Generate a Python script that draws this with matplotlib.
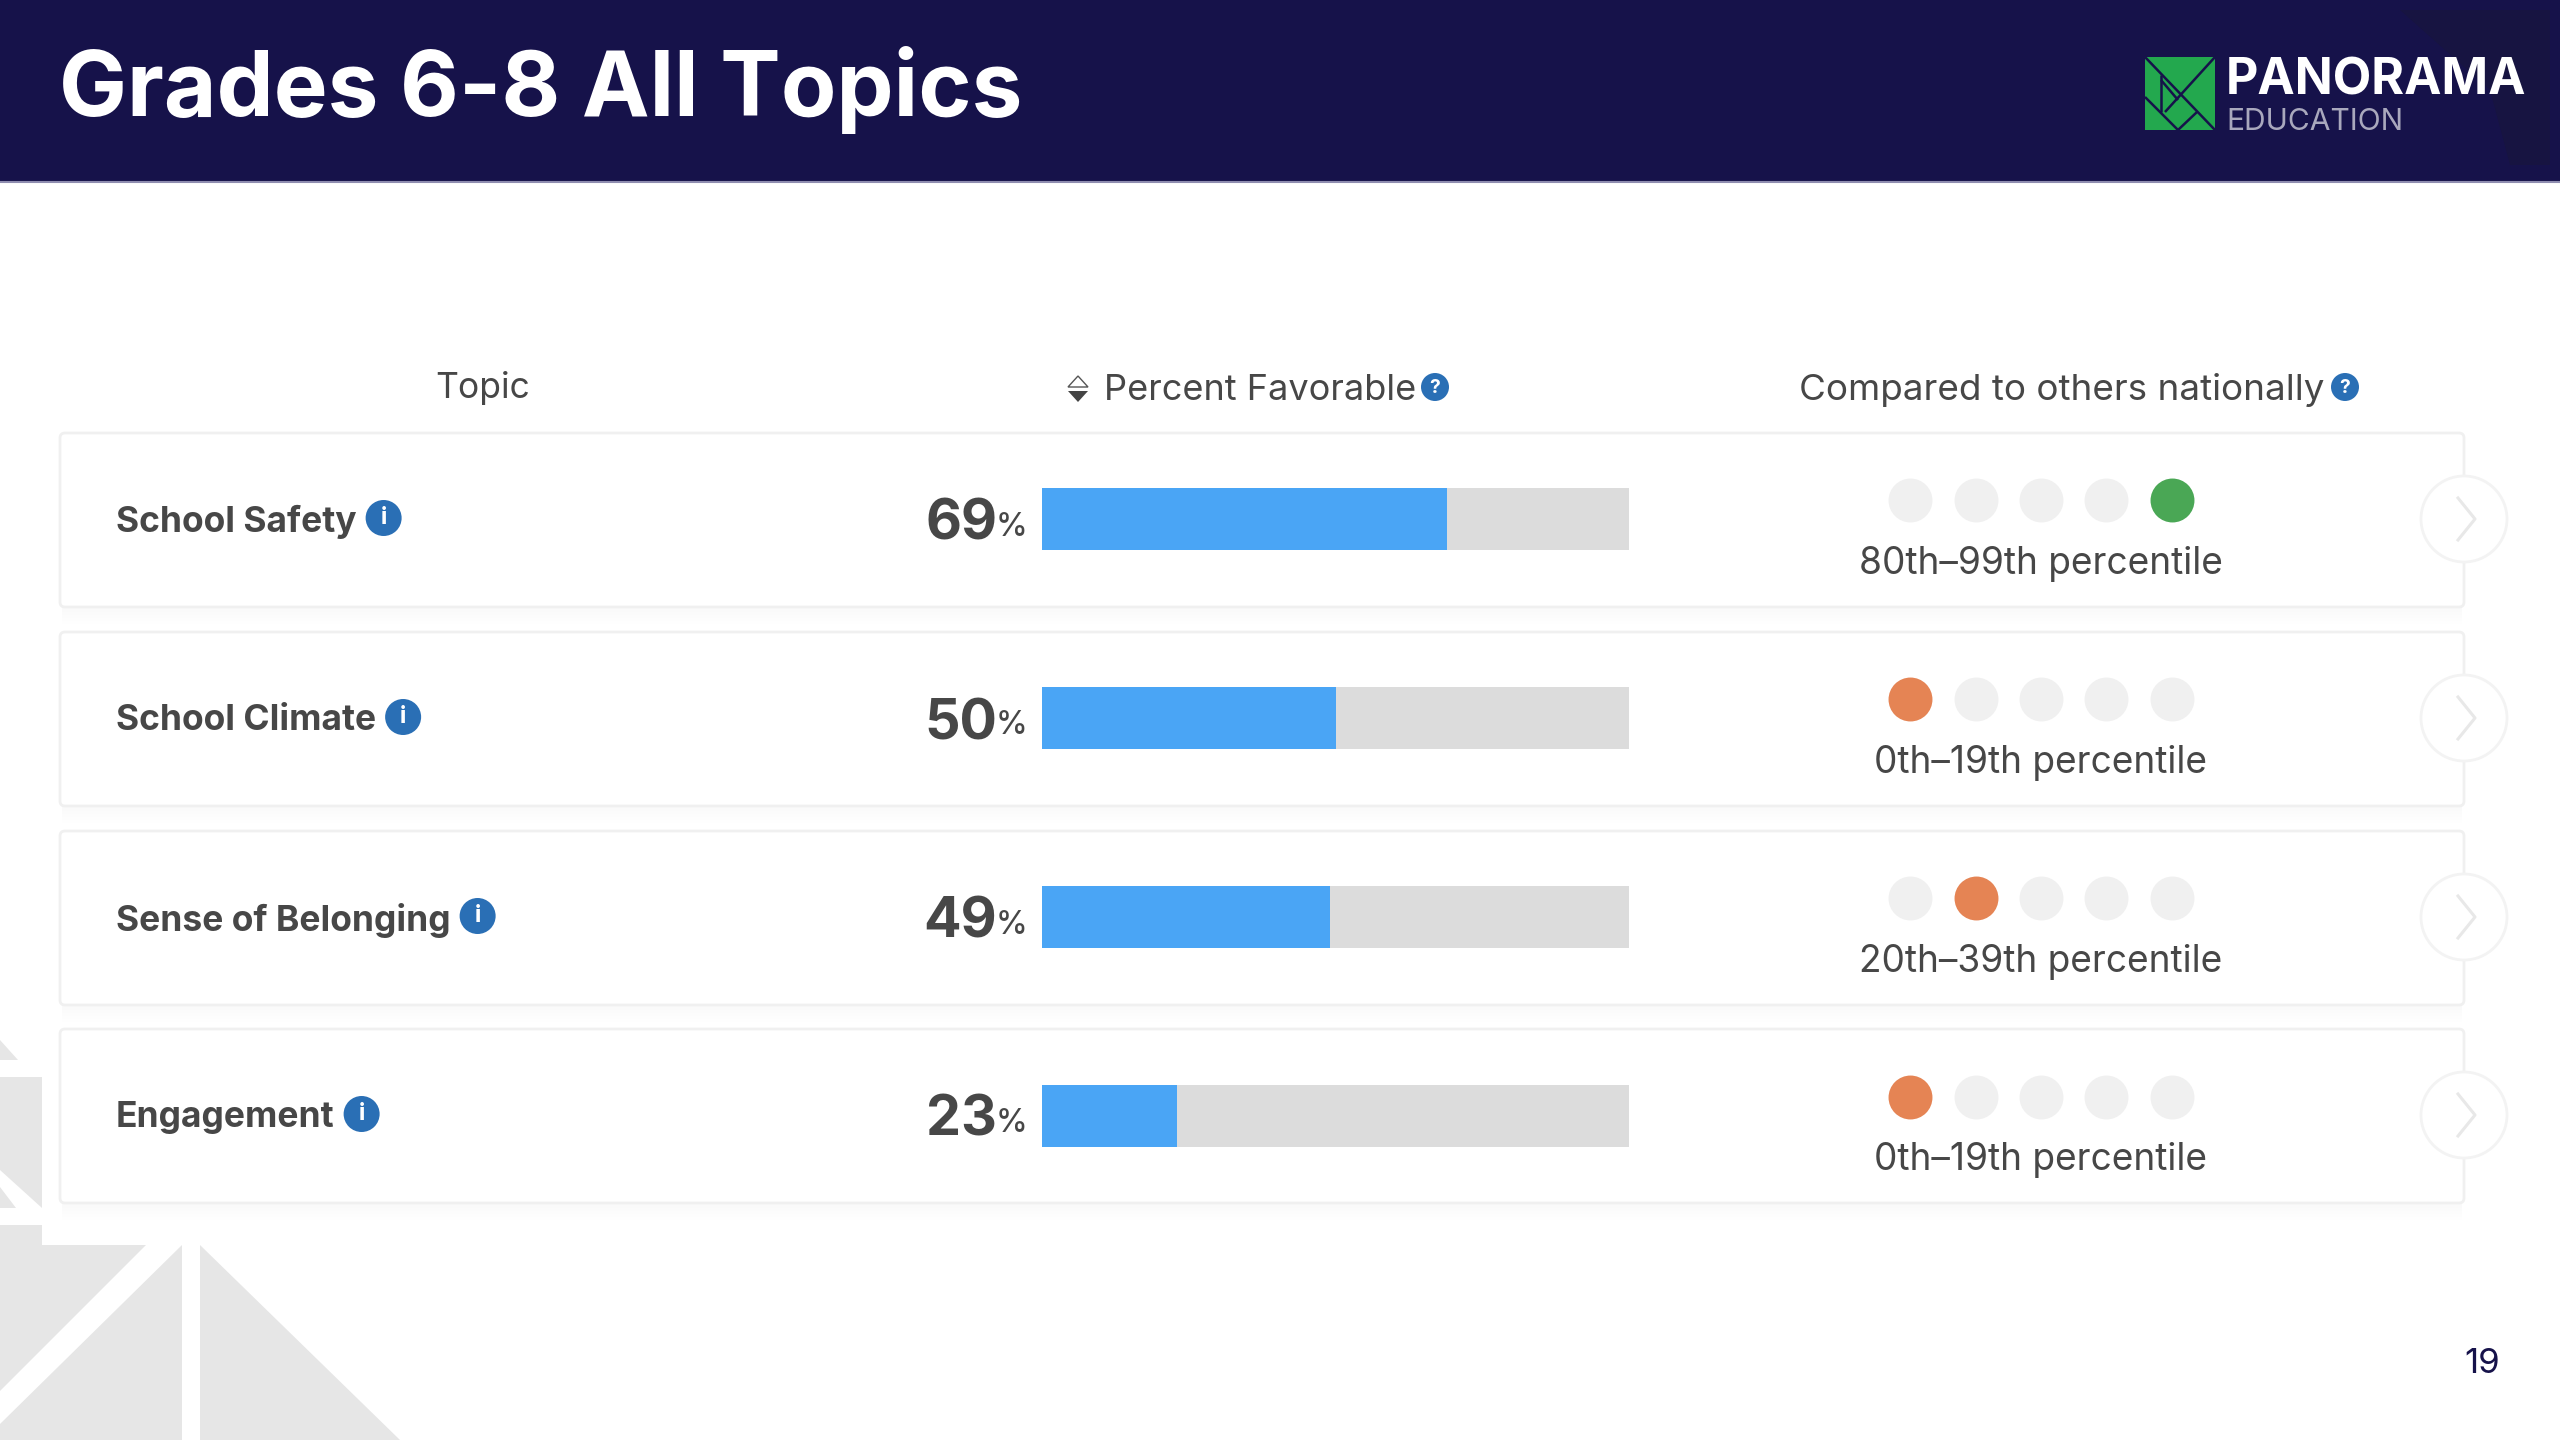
import matplotlib
matplotlib.use("Agg")
import matplotlib.pyplot as plt
from matplotlib.patches import Circle, FancyBboxPatch, Polygon, Rectangle

plt.rcParams['font.family'] = ['Inter', 'DejaVu Sans']

topics = ['School Safety', 'School Climate', 'Sense of Belonging', 'Engagement']
favorable = [69, 50, 49, 23]
percentile_labels = ['80th–99th percentile', '0th–19th percentile',
                     '20th–39th percentile', '0th–19th percentile']
percentile_bucket = [4, 0, 1, 0]
bucket_colors = ['#e58454', '#e58454', '#e58454', '#4aa755', '#4aa755']
buckets = [0, 1, 2, 3, 4]

NAVY = '#16124a'
TEXT = '#474747'
ICON = '#2a6fb5'
BG_GRAY = '#e6e6e6'

W, H = 2560, 1440
fig = plt.figure(figsize=(W / 100, H / 100), dpi=100, facecolor='white')

# whole slide in pixel coordinates
ax = fig.add_axes([0, 0, 1, 1])
ax.set_xlim(0, W)
ax.set_ylim(H, 0)
ax.axis('off')


def pixel_axes(left, top, right, bottom):
    a = fig.add_axes([left / W, 1 - bottom / H, (right - left) / W, (bottom - top) / H])
    a.axis('off')
    a.patch.set_alpha(0)
    return a


# background shapes, bottom left
for pts in [[(200, 1245), (400, 1440), (200, 1440)],
            [(182, 1245), (182, 1440), (0, 1440), (0, 1424)],
            [(0, 1245), (146, 1245), (0, 1391)],
            [(0, 1225), (42, 1225), (42, 1245), (0, 1245)],
            [(0, 1040), (18, 1060), (0, 1060)],
            [(0, 1077), (42, 1077), (42, 1208), (0, 1170)],
            [(0, 1187), (16, 1208), (0, 1208)]]:
    ax.add_patch(Polygon(pts, closed=True, fc=BG_GRAY, ec='none'))

# header band
ax.add_patch(Rectangle((0, 0), W, 181, fc=NAVY, ec='none'))
ax.add_patch(Polygon([(2400, 10), (2550, 10), (2550, 165), (2510, 165), (2490, 90)],
                     closed=True, fc='#171441', ec='none'))
ax.plot([0, W], [182, 182], color='#8f8db0', lw=1.5)
ax.text(59, 90, 'Grades 6-8 All Topics', color='white', fontsize=65.3, fontweight='bold',
        va='center', ha='left')

# logo
ax.add_patch(Rectangle((2145, 57), 70, 73, fc='#23a84e', ec='none'))
for xs, ys in [([2145, 2215], [57, 130]), ([2215, 2165], [57, 112]),
               ([2145, 2178], [97, 130]), ([2161, 2161], [75, 112]),
               ([2161, 2178], [80, 100]), ([2178, 2197], [130, 112])]:
    ax.plot(xs, ys, color=NAVY, lw=1.8, solid_capstyle='butt')
ax.text(2226, 81, 'PANORAMA', color='white', fontsize=36, fontweight='bold', va='center', ha='left')
ax.text(2226, 122, 'EDUCATION', color='#a9a8bd', fontsize=21.6, va='center', ha='left')

# column headers
ax.text(483, 388, 'Topic', color=TEXT, fontsize=25.5, va='center', ha='center')
ax.text(1104, 390, 'Percent Favorable', color=TEXT, fontsize=26, va='center', ha='left')
ax.text(1799, 390, 'Compared to others nationally', color=TEXT, fontsize=26.5, va='center', ha='left')
ax.add_patch(Polygon([(1078, 376), (1068, 387), (1088, 387)], closed=True, fc='white', ec='#555555', lw=1))
ax.add_patch(Polygon([(1068, 391), (1088, 391), (1078, 402)], closed=True, fc='#444444', ec='none'))
for cx in [1435, 2345]:
    ax.add_patch(Circle((cx, 387), 14, fc=ICON, ec='none'))
    ax.text(cx, 388, '?', color='white', fontsize=14, fontweight='bold', va='center', ha='center')

# cards
row_y = [519, 718, 917, 1115]
for y in row_y:
    for i in range(5):
        ax.add_patch(Rectangle((62, y + 87), 2400, 6 + 3 * i, fc='#000000', alpha=0.004, ec='none'))
    ax.add_patch(FancyBboxPatch((60, y - 86), 2404, 174, boxstyle='round,pad=0,rounding_size=5',
                                fc='white', ec='#f0f0f0', lw=2))
    ax.add_patch(Circle((2464, y), 43, fc='white', ec='#f3f3f3', lw=2))
    ax.plot([2458, 2475, 2458], [y - 21, y, y + 21], color='#e8e8e8', lw=2.2)

# labels and values
fig.canvas.draw()
renderer = fig.canvas.get_renderer()
for y, name, val, plabel in zip(row_y, topics, favorable, percentile_labels):
    t = ax.text(116, y + 3, name, color=TEXT, fontsize=25.5, fontweight='bold', va='center', ha='left')
    right = t.get_window_extent(renderer).x1
    ax.add_patch(Circle((right + 27, y - 1), 18, fc=ICON, ec='none'))
    ax.text(right + 27, y - 1, 'i', color='white', fontsize=17, fontweight='bold', va='center', ha='center')
    ax.text(997, y + 6, str(val), color=TEXT, fontsize=40, fontweight='bold', va='center', ha='right')
    ax.text(1027, y + 8, '%', color=TEXT, fontsize=23, fontweight='medium', va='center', ha='right')
    ax.text(2041, y + 45, plabel, color=TEXT, fontsize=26.7, va='center', ha='center')

ax.text(2482, 1364, '19', color=NAVY, fontsize=25, va='center', ha='center')

# bars, 0-100 across the track
bar_ax = pixel_axes(1042, 419.5, 1629, 1215.5)
bar_ax.set_xlim(0, 100)
bar_ax.set_ylim(3.5, -0.5)
bar_ax.barh(range(len(topics)), [100] * len(topics), height=0.31, color='#dcdcdc')
bar_ax.barh(range(len(topics)), favorable, height=0.31, color='#4aa5f5')

# percentile dots
dot_ax = pixel_axes(1877.7, 400.5, 2204.2, 1196.5)
dot_ax.set_xlim(-0.5, 4.5)
dot_ax.set_ylim(3.5, -0.5)
for row, bucket in enumerate(percentile_bucket):
    for b in buckets:
        dot_ax.scatter(b, row, s=1000, linewidths=0,
                       color=bucket_colors[b] if b == bucket else '#f0f0f0')

fig.savefig('out.png', dpi=100)
